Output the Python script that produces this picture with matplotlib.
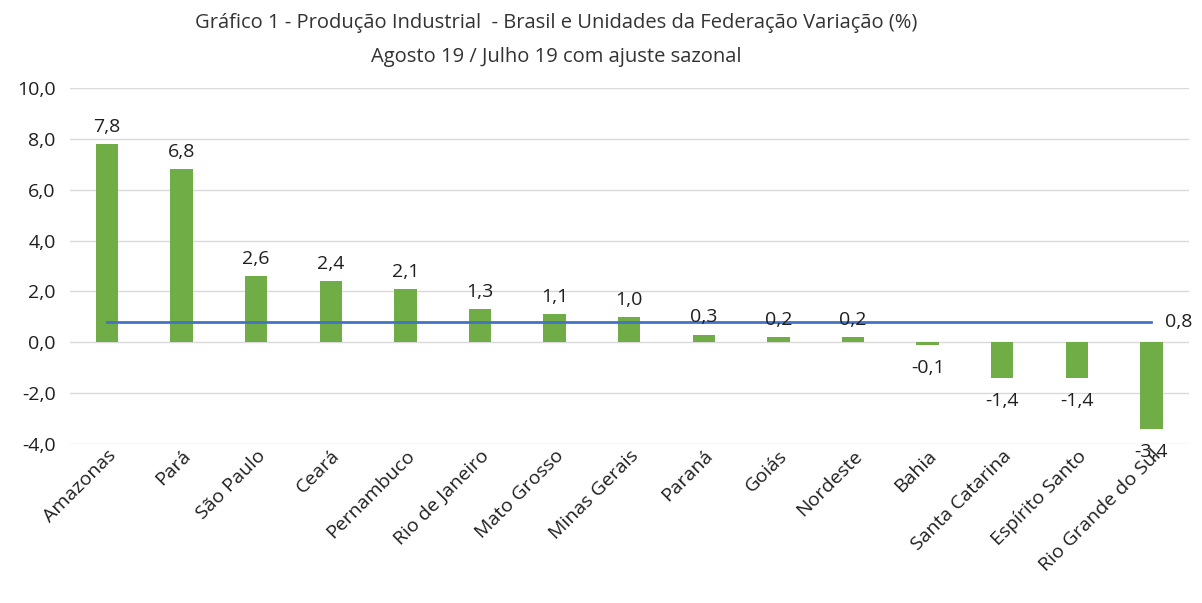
import matplotlib.pyplot as plt
import numpy as np

plt.rcParams['font.family'] = ['Open Sans', 'DejaVu Sans']

# ---------- dados ----------
estados = ['Amazonas', 'Pará', 'São Paulo', 'Ceará', 'Pernambuco',
           'Rio de Janeiro', 'Mato Grosso', 'Minas Gerais', 'Paraná', 'Goiás',
           'Nordeste', 'Bahia', 'Santa Catarina', 'Espírito Santo',
           'Rio Grande do Sul']
variacao = [7.8, 6.8, 2.6, 2.4, 2.1, 1.3, 1.1, 1.0, 0.3, 0.2, 0.2,
            -0.1, -1.4, -1.4, -3.4]
brasil = 0.8

yticks = [-4, -2, 0, 2, 4, 6, 8, 10]

def fmt(v):
    return f'{v:.1f}'.replace('.', ',')

fs = 14
txt = '#1f1f1f'
fig = plt.figure(figsize=(12.02, 6.03), dpi=100)
ax = fig.add_axes([0.058, 0.2637, 0.931, 0.5903])

x = np.arange(len(estados))
ax.bar(x, variacao, width=0.3, color='#70ad47', zorder=2)
ax.plot(x, [brasil] * len(x), color='#4472c4', lw=2, zorder=3)

# rótulos de dados
for xi, v in zip(x, variacao):
    if v >= 0:
        ax.annotate(fmt(v), (xi, v), xytext=(0, 6), textcoords='offset points',
                    ha='center', va='bottom', fontsize=fs, color=txt)
    else:
        ax.annotate(fmt(v), (xi, v), xytext=(0, -10), textcoords='offset points',
                    ha='center', va='top', fontsize=fs, color=txt)
ax.annotate(fmt(brasil), (x[-1], brasil), xytext=(10, 0), textcoords='offset points',
            ha='left', va='center', fontsize=fs, color=txt)

ax.set_xlim(-0.5, len(estados) - 0.5)
ax.set_ylim(-4, 10)
ax.set_yticks(yticks)
ax.set_yticklabels([fmt(t) for t in yticks], fontsize=fs, color=txt)
ax.set_xticks(x)
ax.set_xticklabels(estados, rotation=45, ha='right', va='top',
                   rotation_mode='anchor', fontsize=fs, color=txt)
ax.tick_params(axis='both', length=0)
ax.tick_params(axis='x', pad=2)
ax.tick_params(axis='y', pad=10)

ax.grid(axis='y', color='#d9d9d9', lw=1, zorder=0)
ax.set_axisbelow(True)
for s in ax.spines.values():
    s.set_visible(False)

fig.text(0.4626, 0.962, 'Gráfico 1 - Produção Industrial  - Brasil e Unidades da Federação Variação (%)',
         ha='center', va='center', fontsize=14.5, color='#333333')
fig.text(0.4626, 0.905, 'Agosto 19 / Julho 19 com ajuste sazonal',
         ha='center', va='center', fontsize=14.5, color='#333333')

fig.savefig('out.png', dpi=100)
